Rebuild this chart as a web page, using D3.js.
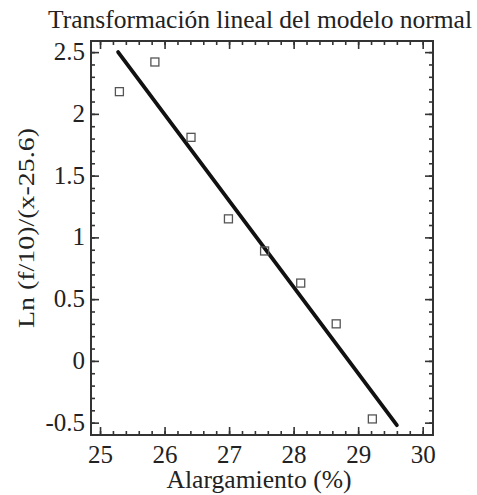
<!DOCTYPE html>
<html>
<head>
<meta charset="utf-8">
<script src="https://cdn.jsdelivr.net/npm/d3@7"></script>
<style>
  body { margin: 0; background: #fff; }
  text { font-family: "Liberation Serif", "DejaVu Serif", serif; fill: #222; }
</style>
</head>
<body>
<div id="chart"></div>
<script>
// data
const elongation = [25.30, 25.85, 26.41, 26.99, 27.55, 28.11, 28.66, 29.22];
const lnValues = [2.18, 2.42, 1.81, 1.15, 0.89, 0.63, 0.30, -0.47];
const fitX = [25.28, 29.60];
const fitY = [2.50, -0.52];
const xTicks = [25, 26, 27, 28, 29, 30];
const yTicks = [-0.5, 0, 0.5, 1, 1.5, 2, 2.5];

const W = 477, H = 495;
const margin = { top: 41, right: 44, bottom: 60, left: 91 };
const width = W - margin.left - margin.right;
const height = H - margin.top - margin.bottom;

const svgRoot = d3.select('#chart').append('svg')
    .attr('width', W)
    .attr('height', H);

const svg = svgRoot.append('g')
    .attr('transform', `translate(${margin.left},${margin.top})`);

const x = d3.scaleLinear().domain([24.86, 30.16]).range([0, width]);
const y = d3.scaleLinear().domain([-0.6, 2.59]).range([height, 0]);

const xMinor = d3.range(25, 30.01, 0.2).map(d => +d.toFixed(1));
const yMinor = d3.range(-0.5, 2.501, 0.1).map(d => +d.toFixed(1));

// inward ticks on all four sides
function ticks(axis, scale, vals, len) {
    return axis(scale).tickValues(vals).tickSize(len).tickFormat('');
}
const tickColor = '#333';
const addAxis = (gen, tr) => {
    const g = svg.append('g').attr('transform', tr).call(gen);
    g.select('.domain').remove();
    g.selectAll('line').attr('stroke', tickColor).attr('stroke-width', 1.6);
    return g;
};
addAxis(ticks(d3.axisTop, x, xMinor, 4), `translate(0,${height})`);
addAxis(ticks(d3.axisTop, x, xTicks, 8), `translate(0,${height})`);
addAxis(ticks(d3.axisBottom, x, xMinor, 4), 'translate(0,0)');
addAxis(ticks(d3.axisBottom, x, xTicks, 8), 'translate(0,0)');
addAxis(ticks(d3.axisRight, y, yMinor, 4), 'translate(0,0)');
addAxis(ticks(d3.axisRight, y, yTicks, 8), 'translate(0,0)');
addAxis(ticks(d3.axisLeft, y, yMinor, 4), `translate(${width},0)`);
addAxis(ticks(d3.axisLeft, y, yTicks, 8), `translate(${width},0)`);

// tick labels
const xLab = svg.append('g')
    .attr('transform', `translate(0,${height})`)
    .call(d3.axisBottom(x).tickValues(xTicks).tickSize(0).tickFormat(d3.format('d')))
    .attr('font-family', '"Liberation Serif", serif')
    .attr('font-size', 25);
xLab.select('.domain').remove();
xLab.selectAll('text')
    .attr('fill', '#2a2a2a').attr('y', 28).attr('dy', 0);

const yLab = svg.append('g')
    .call(d3.axisLeft(y).tickValues(yTicks).tickSize(0).tickPadding(6).tickFormat(d => d))
    .attr('font-family', '"Liberation Serif", serif')
    .attr('font-size', 25);
yLab.select('.domain').remove();
yLab.selectAll('text')
    .attr('fill', '#2a2a2a').attr('dy', '0.3em');

// frame
svg.append('rect')
    .attr('width', width)
    .attr('height', height)
    .attr('fill', 'none')
    .attr('stroke', tickColor)
    .attr('stroke-width', 2);

// fitted line
const fit = fitX.map((d, i) => [d, fitY[i]]);
svg.append('path')
    .datum(fit)
    .attr('d', d3.line().x(d => x(d[0])).y(d => y(d[1])))
    .attr('fill', 'none')
    .attr('stroke', '#111')
    .attr('stroke-width', 3.8)
    .attr('stroke-linecap', 'round');

// data squares
svg.selectAll('.pt')
    .data(elongation)
    .enter().append('rect')
    .attr('class', 'pt')
    .attr('x', d => x(d) - 4)
    .attr('y', (d, i) => y(lnValues[i]) - 4)
    .attr('width', 8)
    .attr('height', 8)
    .attr('fill', 'none')
    .attr('stroke', '#555')
    .attr('stroke-width', 1.3);

// title and axis labels
svgRoot.append('text')
    .attr('x', 260)
    .attr('y', 28)
    .attr('text-anchor', 'middle')
    .attr('textLength', 424)
    .attr('lengthAdjust', 'spacingAndGlyphs')
    .style('font-size', '25px')
    .text('Transformación lineal del modelo normal');

svgRoot.append('text')
    .attr('x', 259)
    .attr('y', 488)
    .attr('text-anchor', 'middle')
    .attr('textLength', 185)
    .attr('lengthAdjust', 'spacingAndGlyphs')
    .style('font-size', '25px')
    .text('Alargamiento (%)');

svgRoot.append('text')
    .attr('transform', 'translate(34,228) rotate(-90)')
    .attr('text-anchor', 'middle')
    .attr('textLength', 200)
    .attr('lengthAdjust', 'spacingAndGlyphs')
    .style('font-size', '24px')
    .text('Ln (f/10)/(x-25.6)');
</script>
</body>
</html>
